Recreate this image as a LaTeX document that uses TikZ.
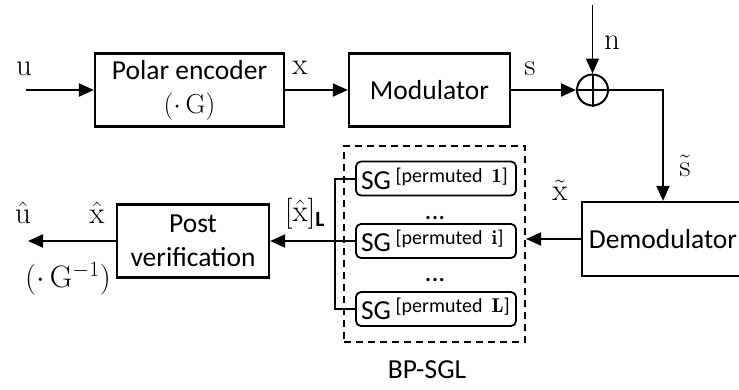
\documentclass[tikz,border=0pt]{standalone}
\usepackage{fix-cm}
\usepackage{amsmath}
\usepackage{fontspec}
\setsansfont{Carlito}
\usetikzlibrary{arrows.meta,positioning}

\begin{document}
\begin{tikzpicture}[x=1pt,y=-1pt]
\tikzset{%
  >={Triangle[length=15pt,width=13pt]}, % filled arrow heads
  block/.style={draw,line width=2.2pt,inner sep=0pt,align=center,
    font=\sffamily\fontsize{27.5}{34}\selectfont},
  sgbox/.style={draw,line width=1.8pt,rounded corners=5pt,
    text width=150pt,minimum height=34pt,inner sep=5pt,align=left,
    font=\sffamily\fontsize{27.5}{30}\selectfont},
  signal/.style={inner sep=0pt,font=\fontsize{31}{34}\selectfont},
  plain/.style={inner sep=0pt,font=\sffamily\fontsize{27.5}{30}\selectfont},
  wire/.style={line width=2pt}
}
\newcommand\perm[1]{\raisebox{7pt}{\fontsize{20}{20}\selectfont[permuted $\mathbf{#1}$]}}
\useasboundingbox (0,0) rectangle (739,389);

%% transmitter chain

\node[block,minimum width=189pt,minimum height=73pt] (enc) at (189.5,90)
  {Polar encoder\\$(\cdot\,\mathrm{G})$};
\node[block,minimum width=161pt,minimum height=73pt] (mod) at (429.5,90)
  {Modulator};
\node[draw,circle,line width=2pt,minimum size=31pt,inner sep=0pt] (plus)
  at (592.5,90) {};
\draw[line width=2pt] (plus.north) -- (plus.south) (plus.west) -- (plus.east);
\node[block,minimum width=162pt,minimum height=74pt] (demod) at (663,239)
  {Demodulator};

%% BP-SGL decoder list

\node[draw,dashed,dash pattern=on 7pt off 5pt,line width=2pt,
  minimum width=181pt,minimum height=196pt] (sgl) at (434.5,244) {};
\node[sgbox] (sg1) at (436,178.5) {SG\,\perm{1}};
\node[sgbox] (sgi) at (436,241) {SG\,\perm{i}};
\node[sgbox] (sgL) at (436,309) {SG\,\perm{L}};
\node[plain] (dots1) at (435,218) {...};
\node[plain] (dots2) at (435,280) {...};
\node[plain] (bpsgl) at (427,370) {BP-SGL};

\node[block,minimum width=152pt,minimum height=73pt] (post) at (193,241)
  {Post\\verification};

%% free ends

\coordinate (uin) at (26,90);
\coordinate (nin) at (592.5,5);
\coordinate (bus) at (335,241);
\coordinate (uout) at (28,241);

%% connectors

\draw[wire,->] (uin) -- (enc.west);
\draw[wire,->] (enc.east) -- (mod.west);
\draw[wire,->] (mod.east) -- (plus.west);
\draw[line width=1.6pt,->] (nin) -- (plus.north);
\draw[wire,->] (plus.east) -| (demod.north);
\draw[wire,->] (demod.west) -- (demod.west -| sgl.east);
\draw[wire] (sg1.west) -- (sg1.west -| bus) -- (sgL.west -| bus) -- (sgL.west);
\draw[wire,->] (sgi.west) -- (post.east);
\draw[wire,->] (post.west) -- (uout);

%% signal labels

\node[signal] (lu) at (24,69) {$\mathrm{u}$};
\node[signal] (lx) at (300,68) {$\mathrm{x}$};
\node[signal] (ls) at (530,69) {$\mathrm{s}$};
\node[signal] (ln) at (612,43) {$\mathrm{n}$};
\node[signal] (lst) at (685,166) {$\tilde{\mathrm{s}}$};
\node[signal] (lxt) at (560,190) {$\tilde{\mathrm{x}}$};
\node[signal] (lxL) at (305,214)
  {$[\hat{\mathrm{x}}]_{\textsf{\textbf{L}}}$};
\node[signal] (lxh) at (97,213) {$\hat{\mathrm{x}}$};
\node[signal] (luh) at (23,213) {$\hat{\mathrm{u}}$};
\node[signal] (lginv) at (68,279) {$(\cdot\,\mathrm{G}^{-1})$};
\end{tikzpicture}
\end{document}
